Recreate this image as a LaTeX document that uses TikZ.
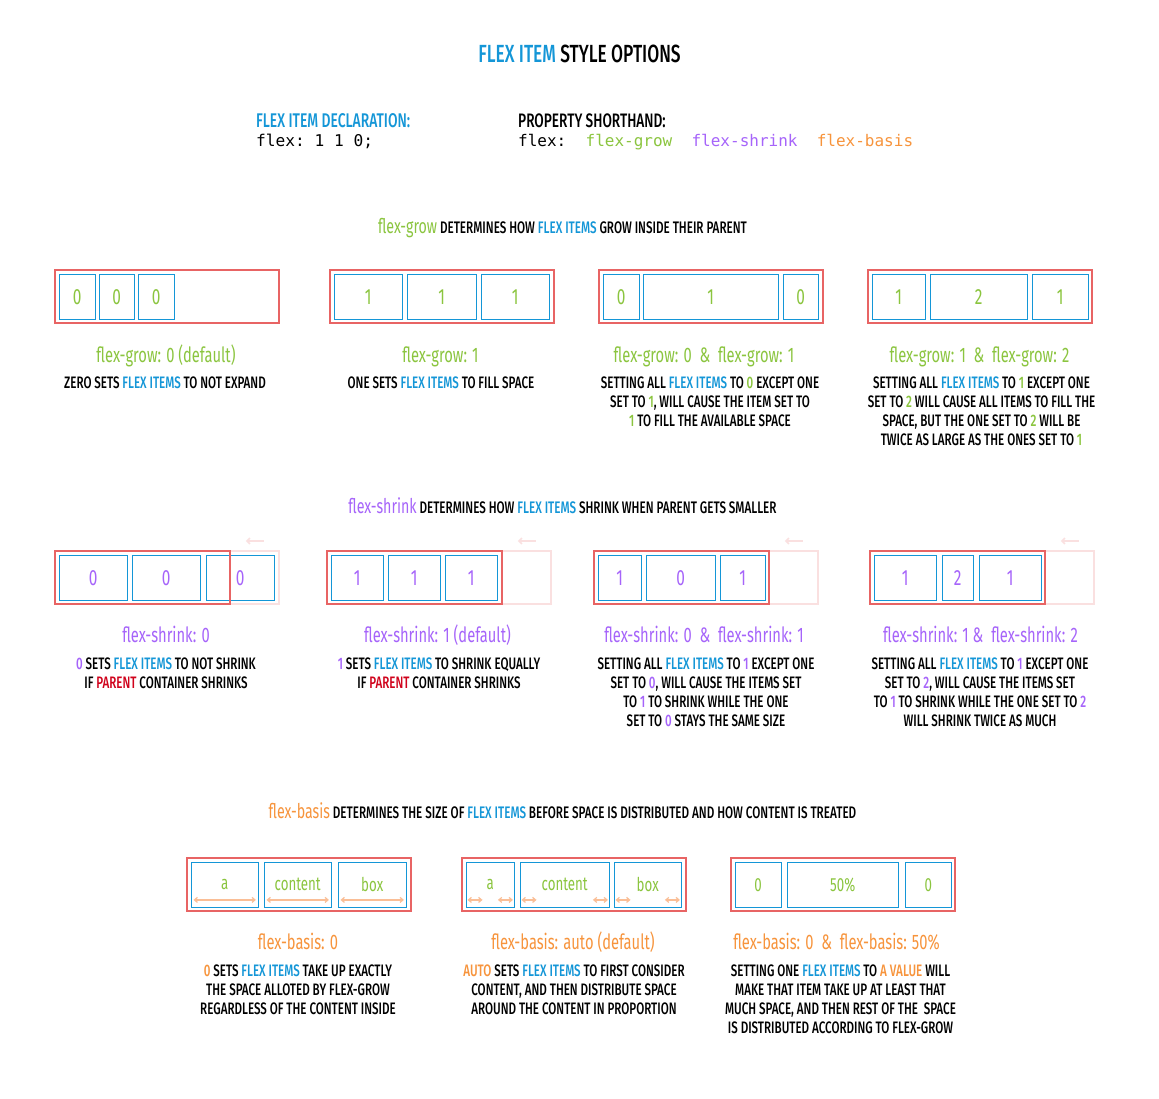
\documentclass[tikz,border=0pt]{standalone}
\usepackage{fontspec}
\setmainfont{Fira Sans}[FakeStretch=0.7]
\newfontfamily\medf{Fira Sans Medium}[FakeStretch=0.7]
\setmonofont{DejaVu Sans Mono}
\usetikzlibrary{calc,arrows.meta}
\definecolor{fblue}{RGB}{20,150,215}
\definecolor{fgreen}{RGB}{139,197,63}
\definecolor{fpurple}{RGB}{166,100,250}
\definecolor{forange}{RGB}{247,148,60}
\definecolor{fred}{RGB}{208,2,27}
\definecolor{contred}{RGB}{232,100,100}
\definecolor{ghostred}{RGB}{250,224,224}
\definecolor{peach}{RGB}{250,190,150}
\newcommand\colB[1]{\textcolor{fblue}{#1}}
\newcommand\colG[1]{\textcolor{fgreen}{#1}}
\newcommand\colP[1]{\textcolor{fpurple}{#1}}
\newcommand\colO[1]{\textcolor{forange}{#1}}
\newcommand\colR[1]{\textcolor{fred}{#1}}
\newcommand\fsz[1]{\fontsize{#1}{#1}\selectfont}
\newcommand\lw[1]{{\normalfont\fsz{20.3}#1}}
\begin{document}
\begin{tikzpicture}[x=1pt,y=-1pt,
  cont/.style={draw=contred, line width=2.4pt, inner sep=0, anchor=north west, minimum height=53, minimum width=224},
  ghost/.style={draw=ghostred, line width=1.8pt, inner sep=0, anchor=north west, minimum height=53, minimum width=224},
  item/.style={draw=fblue, line width=1.4pt, inner sep=0, anchor=north west, minimum height=45, font=\fsz{22}},
  gitem/.style={item, text=fgreen},
  sitem/.style={item, text=fpurple},
  bitem/.style={item, text=fgreen, font=\fsz{19}},
  lab/.style={font=\fsz{21}, anchor=base, inner sep=0},
  desc/.style={font=\medf\fontsize{16.6}{19}\selectfont, align=center, anchor=north, inner sep=0},
  head/.style={font=\medf\fsz{16.7}, anchor=base, inner sep=0},
  shar/.style={draw=ghostred, line width=1.6pt, -{Straight Barb[length=3pt,width=6pt]}},
  bar/.style={draw=peach, line width=1.2pt, {Straight Barb[length=3pt,width=5pt]}-{Straight Barb[length=3pt,width=5pt]}}
]
\useasboundingbox[fill=white] (0,0) rectangle (1159,1098);

% title
\node[anchor=base, inner sep=0, font=\medf\fsz{24.8}] (title) at (579.5,62) {\colB{FLEX ITEM} STYLE OPTIONS};
\node[anchor=base west, inner sep=0, font=\medf\fsz{19.8}, text=fblue] (decl) at (256,127) {FLEX ITEM DECLARATION:};
\node[anchor=base west, inner sep=0, font=\ttfamily\fsz{16.2}] (declc) at (256,146) {flex: 1 1 0;};
\node[anchor=base west, inner sep=0, font=\medf\fsz{19.5}] (short) at (518,127) {PROPERTY SHORTHAND:};
\node[anchor=base west, inner sep=0, font=\ttfamily\fsz{16}] (shortc) at (518,146) {flex:\ \ \colG{flex-grow}\ \ \colP{flex-shrink}\ \ \colO{flex-basis}};

% ================= flex-grow
\node[head] (h1) at (562.5,233) {\colG{\lw{flex-grow}} DETERMINES HOW \colB{FLEX ITEMS} GROW INSIDE THEIR PARENT};

\node[cont] (g1) at (54,269) {};
\node[gitem, minimum width=36] (g1a) at (58.5,273.5) {0};
\node[gitem, minimum width=35] (g1b) at (98.5,273.5) {0};
\node[gitem, minimum width=36] (g1c) at (137.5,273.5) {0};

\node[cont] (g2) at (329,269) {};
\node[gitem, minimum width=68] (g2a) at (333.5,273.5) {1};
\node[gitem, minimum width=69] (g2b) at (406.5,273.5) {1};
\node[gitem, minimum width=68] (g2c) at (480.5,273.5) {1};

\node[cont] (g3) at (598,269) {};
\node[gitem, minimum width=36] (g3a) at (602.5,273.5) {0};
\node[gitem, minimum width=135] (g3b) at (642.5,273.5) {1};
\node[gitem, minimum width=35] (g3c) at (782.5,273.5) {0};

\node[cont] (g4) at (867,269) {};
\node[gitem, minimum width=53] (g4a) at (871.5,273.5) {1};
\node[gitem, minimum width=97] (g4b) at (929.5,273.5) {2};
\node[gitem, minimum width=56] (g4c) at (1031.5,273.5) {1};

\node[lab, text=fgreen] (gl1) at (166,362) {flex-grow: 0 (default)};
\node[lab, text=fgreen] (gl2) at (440.5,362) {flex-grow: 1};
\node[lab, text=fgreen] (gl3) at (704,362) {flex-grow: 0\ \ \&\ \ flex-grow: 1};
\node[lab, text=fgreen] (gl4) at (979.5,362) {flex-grow: 1\ \ \&\ \ flex-grow: 2};

\node[desc] (gd1) at (165,376.5) {ZERO SETS \colB{FLEX ITEMS} TO NOT EXPAND};
\node[desc] (gd2) at (441,376.5) {ONE SETS \colB{FLEX ITEMS} TO FILL SPACE};
\node[desc] (gd3) at (710,376.5) {SETTING ALL \colB{FLEX ITEMS} TO \colG{0} EXCEPT ONE\\SET TO \colG{1}, WILL CAUSE THE ITEM SET TO\\\colG{1} TO FILL THE AVAILABLE SPACE};
\node[desc] (gd4) at (981.5,376.5) {SETTING ALL \colB{FLEX ITEMS} TO \colG{1} EXCEPT ONE\\SET TO \colG{2} WILL CAUSE ALL ITEMS TO FILL THE\\SPACE, BUT THE ONE SET TO \colG{2} WILL BE\\TWICE AS LARGE AS THE ONES SET TO \colG{1}};

% ================= flex-shrink
\node[head] (h2) at (562.5,513) {\colP{\lw{flex-shrink}} DETERMINES HOW \colB{FLEX ITEMS} SHRINK WHEN PARENT GETS SMALLER};

\node[ghost] (s1g) at (54,550) {};
\node[sitem, minimum width=68] (s1a) at (58.5,554.5) {0};
\node[sitem, minimum width=68] (s1b) at (131.5,554.5) {0};
\node[sitem, minimum width=68] (s1c) at (205.5,554.5) {0};
\node[cont, minimum width=175] (s1) at (54,550) {};
\draw[shar] ($(s1g.north east)+(-16,-9)$) -- ($(s1g.north east)+(-34,-9)$);

\node[ghost] (s2g) at (326,550) {};
\node[sitem, minimum width=52] (s2a) at (330.5,554.5) {1};
\node[sitem, minimum width=52] (s2b) at (387.5,554.5) {1};
\node[sitem, minimum width=52] (s2c) at (444.5,554.5) {1};
\node[cont, minimum width=175] (s2) at (326,550) {};
\draw[shar] ($(s2g.north east)+(-16,-9)$) -- ($(s2g.north east)+(-34,-9)$);

\node[ghost] (s3g) at (593,550) {};
\node[sitem, minimum width=43] (s3a) at (597.5,554.5) {1};
\node[sitem, minimum width=69] (s3b) at (645.5,554.5) {0};
\node[sitem, minimum width=45] (s3c) at (719.5,554.5) {1};
\node[cont, minimum width=175] (s3) at (593,550) {};
\draw[shar] ($(s3g.north east)+(-16,-9)$) -- ($(s3g.north east)+(-34,-9)$);

\node[ghost] (s4g) at (869,550) {};
\node[sitem, minimum width=62] (s4a) at (873.5,554.5) {1};
\node[sitem, minimum width=31] (s4b) at (941.5,554.5) {2};
\node[sitem, minimum width=62] (s4c) at (978.5,554.5) {1};
\node[cont, minimum width=175] (s4) at (869,550) {};
\draw[shar] ($(s4g.north east)+(-16,-9)$) -- ($(s4g.north east)+(-34,-9)$);

\node[lab, text=fpurple] (sl1) at (166,642) {flex-shrink: 0};
\node[lab, text=fpurple] (sl2) at (437.5,642) {flex-shrink: 1 (default)};
\node[lab, text=fpurple] (sl3) at (704,642) {flex-shrink: 0\ \ \&\ \ flex-shrink: 1};
\node[lab, text=fpurple] (sl4) at (980.5,642) {flex-shrink: 1\ \&\ \ flex-shrink: 2};

\node[desc] (sd1) at (166,657.5) {\colP{0} SETS \colB{FLEX ITEMS} TO NOT SHRINK\\IF \colR{PARENT} CONTAINER SHRINKS};
\node[desc] (sd2) at (439,657.5) {\colP{1} SETS \colB{FLEX ITEMS} TO SHRINK EQUALLY\\IF \colR{PARENT} CONTAINER SHRINKS};
\node[desc] (sd3) at (706,657.5) {SETTING ALL \colB{FLEX ITEMS} TO \colP{1} EXCEPT ONE\\SET TO \colP{0}, WILL CAUSE THE ITEMS SET\\TO \colP{1} TO SHRINK WHILE THE ONE\\SET TO \colP{0} STAYS THE SAME SIZE};
\node[desc] (sd4) at (980,657.5) {SETTING ALL \colB{FLEX ITEMS} TO \colP{1} EXCEPT ONE\\SET TO \colP{2}, WILL CAUSE THE ITEMS SET\\TO \colP{1} TO SHRINK WHILE THE ONE SET TO \colP{2}\\WILL SHRINK TWICE AS MUCH};

% ================= flex-basis
\node[head] (h3) at (562.5,818) {\colO{\lw{flex-basis}} DETERMINES THE SIZE OF \colB{FLEX ITEMS} BEFORE SPACE IS DISTRIBUTED AND HOW CONTENT IS TREATED};

\node[cont] (b1) at (186,857) {};
\node[bitem, minimum width=67] (b1a) at (190.5,861.5) {a};
\node[bitem, minimum width=67] (b1b) at (263.5,861.5) {content};
\node[bitem, minimum width=68] (b1c) at (337.5,861.5) {box};
\foreach \n in {b1a,b1b,b1c}{
  \draw[bar] ($(\n.south west)+(3,-8)$) -- ($(\n.south east)+(-3,-8)$);
}

\node[cont] (b2) at (461,857) {};
\node[bitem, minimum width=48] (b2a) at (465.5,861.5) {a};
\node[bitem, minimum width=89] (b2b) at (519.5,861.5) {content};
\node[bitem, minimum width=67] (b2c) at (613.5,861.5) {box};
\foreach \n in {b2a,b2b,b2c}{
  \draw[bar] ($(\n.south west)+(2,-8)$) -- ($(\n.south west)+(17,-8)$);
  \draw[bar] ($(\n.south east)+(-17,-8)$) -- ($(\n.south east)+(-2,-8)$);
}

\node[cont] (b3) at (730,857) {};
\node[bitem, minimum width=46] (b3a) at (734.5,861.5) {0};
\node[bitem, minimum width=111] (b3b) at (786.5,861.5) {50\%};
\node[bitem, minimum width=46] (b3c) at (904.5,861.5) {0};

\node[lab, text=forange] (bl1) at (298,949) {flex-basis: 0};
\node[lab, text=forange] (bl2) at (573,949) {flex-basis: auto (default)};
\node[lab, text=forange] (bl3) at (836.5,949) {flex-basis: 0\ \ \&\ \ flex-basis: 50\%};

\node[desc] (bd1) at (298,964.5) {\colO{0} SETS \colB{FLEX ITEMS} TAKE UP EXACTLY\\THE SPACE ALLOTED BY FLEX-GROW\\REGARDLESS OF THE CONTENT INSIDE};
\node[desc] (bd2) at (574,964.5) {\colO{AUTO} SETS \colB{FLEX ITEMS} TO FIRST CONSIDER\\CONTENT, AND THEN DISTRIBUTE SPACE\\AROUND THE CONTENT IN PROPORTION};
\node[desc] (bd3) at (840.5,964.5) {SETTING ONE \colB{FLEX ITEMS} TO \colO{A VALUE} WILL\\MAKE THAT ITEM TAKE UP AT LEAST THAT\\MUCH SPACE, AND THEN REST OF THE\ \ SPACE\\IS DISTRIBUTED ACCORDING TO FLEX-GROW};
\end{tikzpicture}
\end{document}
